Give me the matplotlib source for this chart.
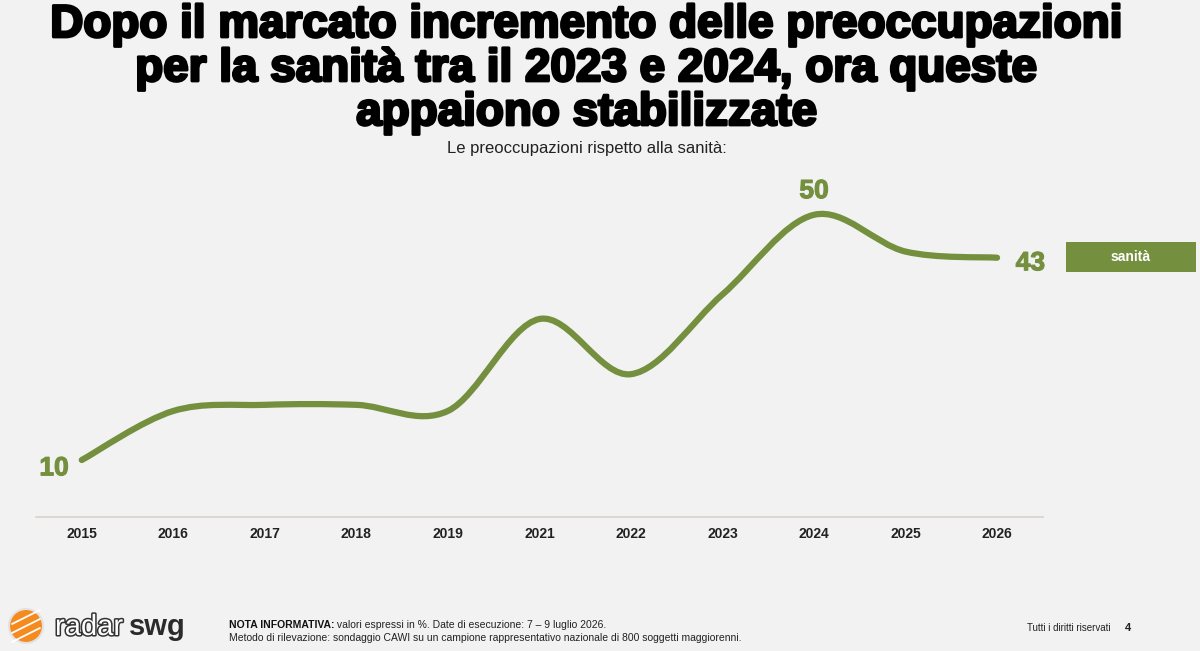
import numpy as np
import matplotlib.pyplot as plt
import matplotlib.patheffects as pe
from matplotlib.path import Path
from matplotlib.patches import PathPatch, Circle, Rectangle

# ------------------------------------------
# Data
# ------------------------------------------

years = ['2015', '2016', '2017', '2018', '2019', '2021',
         '2022', '2023', '2024', '2025', '2026']
sanita = [10, 18, 19, 19, 18, 33, 24, 37, 50, 44, 43]
labelled = {0: '10', 8: '50', 10: '43'}

title_lines = ["Dopo il marcato incremento delle preoccupazioni",
               "per la sanità tra il 2023 e 2024, ora queste",
               "appaiono stabilizzate"]
subtitle = "Le preoccupazioni rispetto alla sanità:"
series_name = "sanità"

BG = '#F2F2F2'
GREEN = '#74903F'

plt.rcParams['font.family'] = ['Liberation Sans', 'DejaVu Sans']

fig = plt.figure(figsize=(12, 6.51), dpi=100, facecolor=BG)

# ------------------------------------------
# Title block
# ------------------------------------------

for k, line in enumerate(title_lines):
    fig.text(587 / 1200, 1 - (37 + 44 * k) / 651, line, ha='center',
             va='baseline', fontsize=33, fontweight='bold', color='black',
             path_effects=[pe.withStroke(linewidth=2.0, foreground='black')])
fig.text(587 / 1200, 1 - 148 / 651, subtitle, ha='center', va='center',
         fontsize=12, color='#222222')

# ------------------------------------------
# Line chart
# ------------------------------------------

ax = fig.add_axes([0.03, 0.2058, 0.839, 0.533])
ax.set_facecolor(BG)

x = np.arange(len(years))
y = np.array(sanita, dtype=float)

# smoothed line (Catmull-Rom as cubic bezier segments)
pts = np.column_stack([x, y])
ext = np.vstack([pts[0], pts, pts[-1]])
verts = [tuple(pts[0])]
codes = [Path.MOVETO]
for i in range(len(pts) - 1):
    p0, p1, p2, p3 = ext[i], ext[i + 1], ext[i + 2], ext[i + 3]
    c1 = p1 + (p2 - p0) / 6
    c2 = p2 - (p3 - p1) / 6
    verts += [tuple(c1), tuple(c2), tuple(p2)]
    codes += [Path.CURVE4] * 3
ax.add_patch(PathPatch(Path(verts, codes), facecolor='none',
                       edgecolor=GREEN, lw=4.5, capstyle='round'))

offsets = {0: (-20, -6), 8: (0, 17), 10: (24, -4)}
for i, txt in labelled.items():
    ax.annotate(txt, (x[i], y[i]), xytext=offsets[i],
                textcoords='offset points', ha='center', va='center',
                fontsize=19, fontweight='bold', color=GREEN,
                path_effects=[pe.withStroke(linewidth=0.8, foreground=GREEN)])

ax.set_xlim(-0.5, len(years) - 0.5)
ax.set_ylim(0.7, 57.3)
ax.set_xticks(x)
ax.set_xticklabels(years, fontsize=10, fontweight='bold', color='#222222')
ax.set_yticks([])
ax.tick_params(axis='x', length=0, pad=7)
for side in ['top', 'right', 'left']:
    ax.spines[side].set_visible(False)
ax.spines['bottom'].set_color('#D9D2CC')
ax.spines['bottom'].set_linewidth(1.2)

# ------------------------------------------
# Legend box
# ------------------------------------------

fig.patches.append(Rectangle((1066 / 1200, 1 - 272 / 651), 130 / 1200,
                             30 / 651, transform=fig.transFigure,
                             facecolor=GREEN, edgecolor='none'))
fig.text(1131 / 1200, 1 - 257 / 651, series_name, ha='center',
         va='center', fontsize=10, fontweight='bold', color='white')

# ------------------------------------------
# Footer
# ------------------------------------------

logo = fig.add_axes([0, 0, 1, 1], facecolor='none')
logo.set_xlim(0, 1200)
logo.set_ylim(651, 0)
logo.axis('off')
logo.add_patch(Circle((26, 626), 17, facecolor='#F58A1F', edgecolor='#E2E2E2', lw=1.5))
for dy in (-9, 0, 9):
    logo.plot([12, 40], [626 + dy + 7, 626 + dy - 7], color='white', lw=1.3,
              solid_capstyle='round')
logo.text(55, 627, 'radar', ha='left', va='center', fontsize=21,
          color='white', path_effects=[pe.withStroke(linewidth=2.2, foreground='#333333')])
logo.text(129, 627, 'swg', ha='left', va='center', fontsize=21,
          fontweight='bold', color='#2B2B2B')

nota = fig.text(229 / 1200, 1 - 625 / 651, 'NOTA INFORMATIVA:', ha='left',
                va='center', fontsize=7.5, fontweight='bold', color='#111111')
logo.annotate(' valori espressi in %. Date di esecuzione: 7 – 9 luglio 2026.',
              xy=(1, 0.5), xycoords=nota, ha='left', va='center',
              fontsize=7.5, color='#222222')
fig.text(229 / 1200, 1 - 638 / 651,
         'Metodo di rilevazione: sondaggio CAWI su un campione rappresentativo '
         'nazionale di 800 soggetti maggiorenni.',
         ha='left', va='center', fontsize=7.5, color='#222222')
fig.text(1027 / 1200, 1 - 628 / 651, 'Tutti i diritti riservati', ha='left',
         va='center', fontsize=7, color='#222222')
fig.text(1128 / 1200, 1 - 628 / 651, '4', ha='center', va='center',
         fontsize=8, fontweight='bold', color='#222222')

fig.savefig('out.png', dpi=100, facecolor=BG)
